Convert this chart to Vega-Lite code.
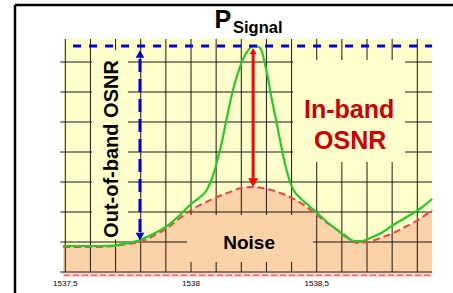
{
  "$schema": "https://vega.github.io/schema/vega-lite/v6.json",
  "width": 438,
  "height": 288,
  "autosize": {"type": "none"},
  "padding": {"left": 15, "top": 5, "right": 0, "bottom": 0},
  "background": "white",
  "config": {"view": {"stroke": null}, "font": "Liberation Sans"},
  "datasets": {
    "noise": [
      {"x": 1537.491, "y": 4.17}, {"x": 1537.598, "y": 4.17}, {"x": 1537.690, "y": 4.33}, {"x": 1537.749, "y": 4.67},
      {"x": 1537.797, "y": 5.0}, {"x": 1537.857, "y": 6.17}, {"x": 1537.905, "y": 7.33}, {"x": 1537.956, "y": 9.0},
      {"x": 1538.000, "y": 10.33}, {"x": 1538.052, "y": 11.5}, {"x": 1538.103, "y": 12.5}, {"x": 1538.155, "y": 13.33},
      {"x": 1538.199, "y": 14.0}, {"x": 1538.247, "y": 14.17}, {"x": 1538.302, "y": 13.83}, {"x": 1538.354, "y": 13.17},
      {"x": 1538.402, "y": 12.33}, {"x": 1538.454, "y": 11.0}, {"x": 1538.501, "y": 9.5}, {"x": 1538.553, "y": 7.83},
      {"x": 1538.601, "y": 6.5}, {"x": 1538.632, "y": 5.5}, {"x": 1538.660, "y": 4.83}, {"x": 1538.704, "y": 5.0},
      {"x": 1538.752, "y": 5.67}, {"x": 1538.804, "y": 6.5}, {"x": 1538.851, "y": 7.5}, {"x": 1538.903, "y": 8.67},
      {"x": 1538.959, "y": 10.33}
    ],
    "signal": [
      {"x": 1537.491, "y": 4.33}, {"x": 1537.598, "y": 4.33}, {"x": 1537.690, "y": 4.42}, {"x": 1537.749, "y": 4.83},
      {"x": 1537.797, "y": 5.33}, {"x": 1537.857, "y": 6.5}, {"x": 1537.905, "y": 7.67}, {"x": 1537.956, "y": 9.5},
      {"x": 1537.996, "y": 11.17}, {"x": 1538.036, "y": 12.5}, {"x": 1538.060, "y": 13.5}, {"x": 1538.076, "y": 14.83},
      {"x": 1538.092, "y": 16.67}, {"x": 1538.107, "y": 19.0}, {"x": 1538.123, "y": 21.67}, {"x": 1538.139, "y": 25.0},
      {"x": 1538.155, "y": 28.17}, {"x": 1538.167, "y": 30.33}, {"x": 1538.183, "y": 32.67}, {"x": 1538.195, "y": 34.17},
      {"x": 1538.211, "y": 35.83}, {"x": 1538.223, "y": 36.67}, {"x": 1538.235, "y": 37.33}, {"x": 1538.247, "y": 37.67},
      {"x": 1538.263, "y": 37.58}, {"x": 1538.275, "y": 37.33}, {"x": 1538.286, "y": 36.17}, {"x": 1538.294, "y": 34.67},
      {"x": 1538.306, "y": 32.33}, {"x": 1538.318, "y": 29.5}, {"x": 1538.330, "y": 27.0}, {"x": 1538.342, "y": 24.5},
      {"x": 1538.354, "y": 22.0}, {"x": 1538.366, "y": 19.5}, {"x": 1538.378, "y": 17.33}, {"x": 1538.394, "y": 15.0},
      {"x": 1538.410, "y": 13.5}, {"x": 1538.434, "y": 12.33}, {"x": 1538.461, "y": 11.33}, {"x": 1538.501, "y": 9.83},
      {"x": 1538.541, "y": 8.33}, {"x": 1538.581, "y": 7.0}, {"x": 1538.617, "y": 5.83}, {"x": 1538.652, "y": 5.17},
      {"x": 1538.680, "y": 5.17}, {"x": 1538.712, "y": 5.67}, {"x": 1538.756, "y": 6.5}, {"x": 1538.804, "y": 7.83},
      {"x": 1538.851, "y": 9.0}, {"x": 1538.903, "y": 10.33}, {"x": 1538.935, "y": 11.33}, {"x": 1538.959, "y": 12.17}
    ],
    "grid_v": [
      {"x": 1537.5}, {"x": 1537.6}, {"x": 1537.7}, {"x": 1537.8}, {"x": 1537.9}, {"x": 1538.0}, {"x": 1538.1}, {"x": 1538.2},
      {"x": 1538.3}, {"x": 1538.4}, {"x": 1538.5}, {"x": 1538.6}, {"x": 1538.7}, {"x": 1538.8}, {"x": 1538.9}
    ],
    "grid_h": [
      {"y": 0}, {"y": 5}, {"y": 10}, {"y": 15}, {"y": 20}, {"y": 25}, {"y": 30}, {"y": 35}
    ],
    "ticks": [
      {"x": 1537.5, "label": "1537,5"}, {"x": 1538.0, "label": "1538"}, {"x": 1538.5, "label": "1538,5"}
    ]
  },
  "layer": [
    {
      "data": {"values": [{}]},
      "mark": {"type": "rect", "color": "#FFFFCC"},
      "encoding": {
        "x": {"datum": 1537.495, "type": "quantitative", "scale": {"domain": [1537.3, 1539.042], "nice": false, "zero": false}, "axis": null},
        "x2": {"datum": 1538.959},
        "y": {"datum": -0.83, "type": "quantitative", "scale": {"domain": [-3.5, 44.5], "nice": false, "zero": false}, "axis": null},
        "y2": {"datum": 38.83}
      }
    },
    {
      "data": {"name": "noise"},
      "mark": {"type": "area", "interpolate": "monotone", "color": "#FCD3A9"},
      "encoding": {
        "x": {"field": "x", "type": "quantitative", "scale": {"domain": [1537.3, 1539.042], "nice": false, "zero": false}, "axis": null},
        "y": {"field": "y", "type": "quantitative", "scale": {"domain": [-3.5, 44.5], "nice": false, "zero": false}, "axis": null},
        "y2": {"datum": -0.83}
      }
    },
    {
      "data": {"values": [{}]},
      "mark": {"type": "rect", "color": "#FFD6D0"},
      "encoding": {
        "x": {"datum": 1537.495, "type": "quantitative", "scale": {"domain": [1537.3, 1539.042], "nice": false, "zero": false}, "axis": null},
        "x2": {"datum": 1538.959},
        "y": {"datum": -0.83, "type": "quantitative", "scale": {"domain": [-3.5, 44.5], "nice": false, "zero": false}, "axis": null},
        "y2": {"datum": 0}
      }
    },
    {
      "data": {"values": [{}]},
      "mark": {"type": "rule", "color": "#F06A6A", "strokeWidth": 1.5, "strokeDash": [6, 3]},
      "encoding": {
        "x": {"datum": 1537.495, "type": "quantitative", "scale": {"domain": [1537.3, 1539.042], "nice": false, "zero": false}, "axis": null},
        "x2": {"datum": 1538.959},
        "y": {"datum": -0.55, "type": "quantitative", "scale": {"domain": [-3.5, 44.5], "nice": false, "zero": false}, "axis": null}
      }
    },
    {
      "data": {"name": "grid_v"},
      "mark": {"type": "rule", "color": "#1A1810", "strokeWidth": 1},
      "encoding": {
        "x": {"field": "x", "type": "quantitative", "scale": {"domain": [1537.3, 1539.042], "nice": false, "zero": false}, "axis": null},
        "y": {"datum": 0, "type": "quantitative", "scale": {"domain": [-3.5, 44.5], "nice": false, "zero": false}, "axis": null},
        "y2": {"datum": 38.83}
      }
    },
    {
      "data": {"name": "grid_h"},
      "mark": {"type": "rule", "color": "#1A1810", "strokeWidth": 1},
      "encoding": {
        "x": {"datum": 1537.48, "type": "quantitative", "scale": {"domain": [1537.3, 1539.042], "nice": false, "zero": false}, "axis": null},
        "x2": {"datum": 1538.959},
        "y": {"field": "y", "type": "quantitative", "scale": {"domain": [-3.5, 44.5], "nice": false, "zero": false}, "axis": null}
      }
    },
    {
      "data": {"name": "ticks"},
      "mark": {"type": "text", "font": "Liberation Sans", "fontSize": 8, "align": "center", "baseline": "alphabetic", "color": "#000"},
      "encoding": {
        "text": {"field": "label"},
        "x": {"field": "x", "type": "quantitative", "scale": {"domain": [1537.3, 1539.042], "nice": false, "zero": false}, "axis": null},
        "y": {"datum": -2.4, "type": "quantitative", "scale": {"domain": [-3.5, 44.5], "nice": false, "zero": false}, "axis": null}
      }
    },
    {
      "data": {"values": [{}]},
      "mark": {"type": "rect", "color": "#FFFFCC"},
      "encoding": {
        "x": {"datum": 1538.406, "type": "quantitative", "scale": {"domain": [1537.3, 1539.042], "nice": false, "zero": false}, "axis": null},
        "x2": {"datum": 1538.851},
        "y": {"datum": 18.33, "type": "quantitative", "scale": {"domain": [-3.5, 44.5], "nice": false, "zero": false}, "axis": null},
        "y2": {"datum": 35.33}
      }
    },
    {
      "data": {"values": [{}]},
      "mark": {"type": "rect", "color": "#FCD3A9"},
      "encoding": {
        "x": {"datum": 1537.984, "type": "quantitative", "scale": {"domain": [1537.3, 1539.042], "nice": false, "zero": false}, "axis": null},
        "x2": {"datum": 1538.485},
        "y": {"datum": 1.67, "type": "quantitative", "scale": {"domain": [-3.5, 44.5], "nice": false, "zero": false}, "axis": null},
        "y2": {"datum": 9.5}
      }
    },
    {
      "data": {"values": [{}]},
      "mark": {"type": "rect", "color": "#FFFFCC"},
      "encoding": {
        "x": {"datum": 1537.606, "type": "quantitative", "scale": {"domain": [1537.3, 1539.042], "nice": false, "zero": false}, "axis": null},
        "x2": {"datum": 1537.749},
        "y": {"datum": 5.4, "type": "quantitative", "scale": {"domain": [-3.5, 44.5], "nice": false, "zero": false}, "axis": null},
        "y2": {"datum": 37.0}
      }
    },
    {
      "data": {"name": "noise"},
      "mark": {"type": "line", "interpolate": "monotone", "color": "#EE4444", "strokeWidth": 2, "strokeDash": [7, 4]},
      "encoding": {
        "x": {"field": "x", "type": "quantitative", "scale": {"domain": [1537.3, 1539.042], "nice": false, "zero": false}, "axis": null},
        "y": {"field": "y", "type": "quantitative", "scale": {"domain": [-3.5, 44.5], "nice": false, "zero": false}, "axis": null}
      }
    },
    {
      "data": {"name": "signal"},
      "mark": {"type": "line", "interpolate": "monotone", "color": "#22CC22", "strokeWidth": 2.2},
      "encoding": {
        "x": {"field": "x", "type": "quantitative", "scale": {"domain": [1537.3, 1539.042], "nice": false, "zero": false}, "axis": null},
        "y": {"field": "y", "type": "quantitative", "scale": {"domain": [-3.5, 44.5], "nice": false, "zero": false}, "axis": null}
      }
    },
    {
      "data": {"values": [{}]},
      "mark": {"type": "rule", "color": "#0000CC", "strokeWidth": 3, "strokeDash": [8, 8]},
      "encoding": {
        "x": {"datum": 1537.531, "type": "quantitative", "scale": {"domain": [1537.3, 1539.042], "nice": false, "zero": false}, "axis": null},
        "x2": {"datum": 1538.959},
        "y": {"datum": 37.67, "type": "quantitative", "scale": {"domain": [-3.5, 44.5], "nice": false, "zero": false}, "axis": null}
      }
    },
    {
      "data": {"values": [{}]},
      "mark": {"type": "rule", "color": "#0000CC", "strokeWidth": 3, "strokeDash": [13, 7]},
      "encoding": {
        "x": {"datum": 1537.797, "type": "quantitative", "scale": {"domain": [1537.3, 1539.042], "nice": false, "zero": false}, "axis": null},
        "y": {"datum": 6.67, "type": "quantitative", "scale": {"domain": [-3.5, 44.5], "nice": false, "zero": false}, "axis": null},
        "y2": {"datum": 35.67}
      }
    },
    {
      "data": {"values": [{}]},
      "mark": {"type": "point", "shape": "triangle-up", "filled": true, "color": "#0000CC", "size": 75, "opacity": 1},
      "encoding": {
        "x": {"datum": 1537.797, "type": "quantitative", "scale": {"domain": [1537.3, 1539.042], "nice": false, "zero": false}, "axis": null},
        "y": {"datum": 36.33, "type": "quantitative", "scale": {"domain": [-3.5, 44.5], "nice": false, "zero": false}, "axis": null}
      }
    },
    {
      "data": {"values": [{}]},
      "mark": {"type": "point", "shape": "triangle-down", "filled": true, "color": "#0000CC", "size": 75, "opacity": 1},
      "encoding": {
        "x": {"datum": 1537.797, "type": "quantitative", "scale": {"domain": [1537.3, 1539.042], "nice": false, "zero": false}, "axis": null},
        "y": {"datum": 5.92, "type": "quantitative", "scale": {"domain": [-3.5, 44.5], "nice": false, "zero": false}, "axis": null}
      }
    },
    {
      "data": {"values": [{}]},
      "mark": {"type": "rule", "color": "#FF0000", "strokeWidth": 3},
      "encoding": {
        "x": {"datum": 1538.247, "type": "quantitative", "scale": {"domain": [1537.3, 1539.042], "nice": false, "zero": false}, "axis": null},
        "y": {"datum": 15.5, "type": "quantitative", "scale": {"domain": [-3.5, 44.5], "nice": false, "zero": false}, "axis": null},
        "y2": {"datum": 36.5}
      }
    },
    {
      "data": {"values": [{}]},
      "mark": {"type": "point", "shape": "triangle-down", "filled": true, "color": "#FF0000", "size": 100, "opacity": 1},
      "encoding": {
        "x": {"datum": 1538.247, "type": "quantitative", "scale": {"domain": [1537.3, 1539.042], "nice": false, "zero": false}, "axis": null},
        "y": {"datum": 14.9, "type": "quantitative", "scale": {"domain": [-3.5, 44.5], "nice": false, "zero": false}, "axis": null}
      }
    },
    {
      "data": {"values": [{}]},
      "mark": {"type": "point", "shape": "triangle-up", "filled": true, "color": "#FF0000", "size": 45, "opacity": 1},
      "encoding": {
        "x": {"datum": 1538.247, "type": "quantitative", "scale": {"domain": [1537.3, 1539.042], "nice": false, "zero": false}, "axis": null},
        "y": {"datum": 36.83, "type": "quantitative", "scale": {"domain": [-3.5, 44.5], "nice": false, "zero": false}, "axis": null}
      }
    },
    {
      "data": {"values": [{}]},
      "mark": {"type": "rule", "color": "#000000", "strokeWidth": 2.5},
      "encoding": {
        "x": {"datum": 1537.3, "type": "quantitative", "scale": {"domain": [1537.3, 1539.042], "nice": false, "zero": false}, "axis": null}
      }
    },
    {
      "data": {"values": [{}]},
      "mark": {"type": "rule", "color": "#000000", "strokeWidth": 2.5},
      "encoding": {
        "y": {"datum": 44.5, "type": "quantitative", "scale": {"domain": [-3.5, 44.5], "nice": false, "zero": false}, "axis": null}
      }
    },
    {
      "data": {"values": [{"t": "P"}]},
      "mark": {"type": "text", "font": "Liberation Sans", "fontSize": 25, "fontWeight": "bold", "align": "center", "baseline": "alphabetic", "color": "#000"},
      "encoding": {
        "text": {"field": "t"},
        "x": {"datum": 1538.127, "type": "quantitative", "scale": {"domain": [1537.3, 1539.042], "nice": false, "zero": false}, "axis": null},
        "y": {"datum": 40.67, "type": "quantitative", "scale": {"domain": [-3.5, 44.5], "nice": false, "zero": false}, "axis": null}
      }
    },
    {
      "data": {"values": [{"t": "Signal"}]},
      "mark": {"type": "text", "font": "Liberation Sans", "fontSize": 16.5, "fontWeight": "bold", "align": "left", "baseline": "alphabetic", "color": "#000"},
      "encoding": {
        "text": {"field": "t"},
        "x": {"datum": 1538.167, "type": "quantitative", "scale": {"domain": [1537.3, 1539.042], "nice": false, "zero": false}, "axis": null},
        "y": {"datum": 39.83, "type": "quantitative", "scale": {"domain": [-3.5, 44.5], "nice": false, "zero": false}, "axis": null}
      }
    },
    {
      "data": {"values": [{"t": "In-band"}]},
      "mark": {"type": "text", "font": "Liberation Sans", "fontSize": 25, "fontWeight": "bold", "align": "center", "baseline": "alphabetic", "color": "#CC0000"},
      "encoding": {
        "text": {"field": "t"},
        "x": {"datum": 1538.629, "type": "quantitative", "scale": {"domain": [1537.3, 1539.042], "nice": false, "zero": false}, "axis": null},
        "y": {"datum": 25.67, "type": "quantitative", "scale": {"domain": [-3.5, 44.5], "nice": false, "zero": false}, "axis": null}
      }
    },
    {
      "data": {"values": [{"t": "OSNR"}]},
      "mark": {"type": "text", "font": "Liberation Sans", "fontSize": 25, "fontWeight": "bold", "align": "center", "baseline": "alphabetic", "color": "#CC0000"},
      "encoding": {
        "text": {"field": "t"},
        "x": {"datum": 1538.633, "type": "quantitative", "scale": {"domain": [1537.3, 1539.042], "nice": false, "zero": false}, "axis": null},
        "y": {"datum": 20.5, "type": "quantitative", "scale": {"domain": [-3.5, 44.5], "nice": false, "zero": false}, "axis": null}
      }
    },
    {
      "data": {"values": [{"t": "Noise"}]},
      "mark": {"type": "text", "font": "Liberation Sans", "fontSize": 19, "fontWeight": "bold", "align": "center", "baseline": "alphabetic", "color": "#000"},
      "encoding": {
        "text": {"field": "t"},
        "x": {"datum": 1538.231, "type": "quantitative", "scale": {"domain": [1537.3, 1539.042], "nice": false, "zero": false}, "axis": null},
        "y": {"datum": 3.83, "type": "quantitative", "scale": {"domain": [-3.5, 44.5], "nice": false, "zero": false}, "axis": null}
      }
    },
    {
      "data": {"values": [{"t": "Out-of-band OSNR"}]},
      "mark": {"type": "text", "font": "Liberation Sans", "fontSize": 20, "fontWeight": "bold", "align": "center", "baseline": "alphabetic", "angle": 270, "color": "#000"},
      "encoding": {
        "text": {"field": "t"},
        "x": {"datum": 1537.710, "type": "quantitative", "scale": {"domain": [1537.3, 1539.042], "nice": false, "zero": false}, "axis": null},
        "y": {"datum": 20.5, "type": "quantitative", "scale": {"domain": [-3.5, 44.5], "nice": false, "zero": false}, "axis": null}
      }
    }
  ]
}
